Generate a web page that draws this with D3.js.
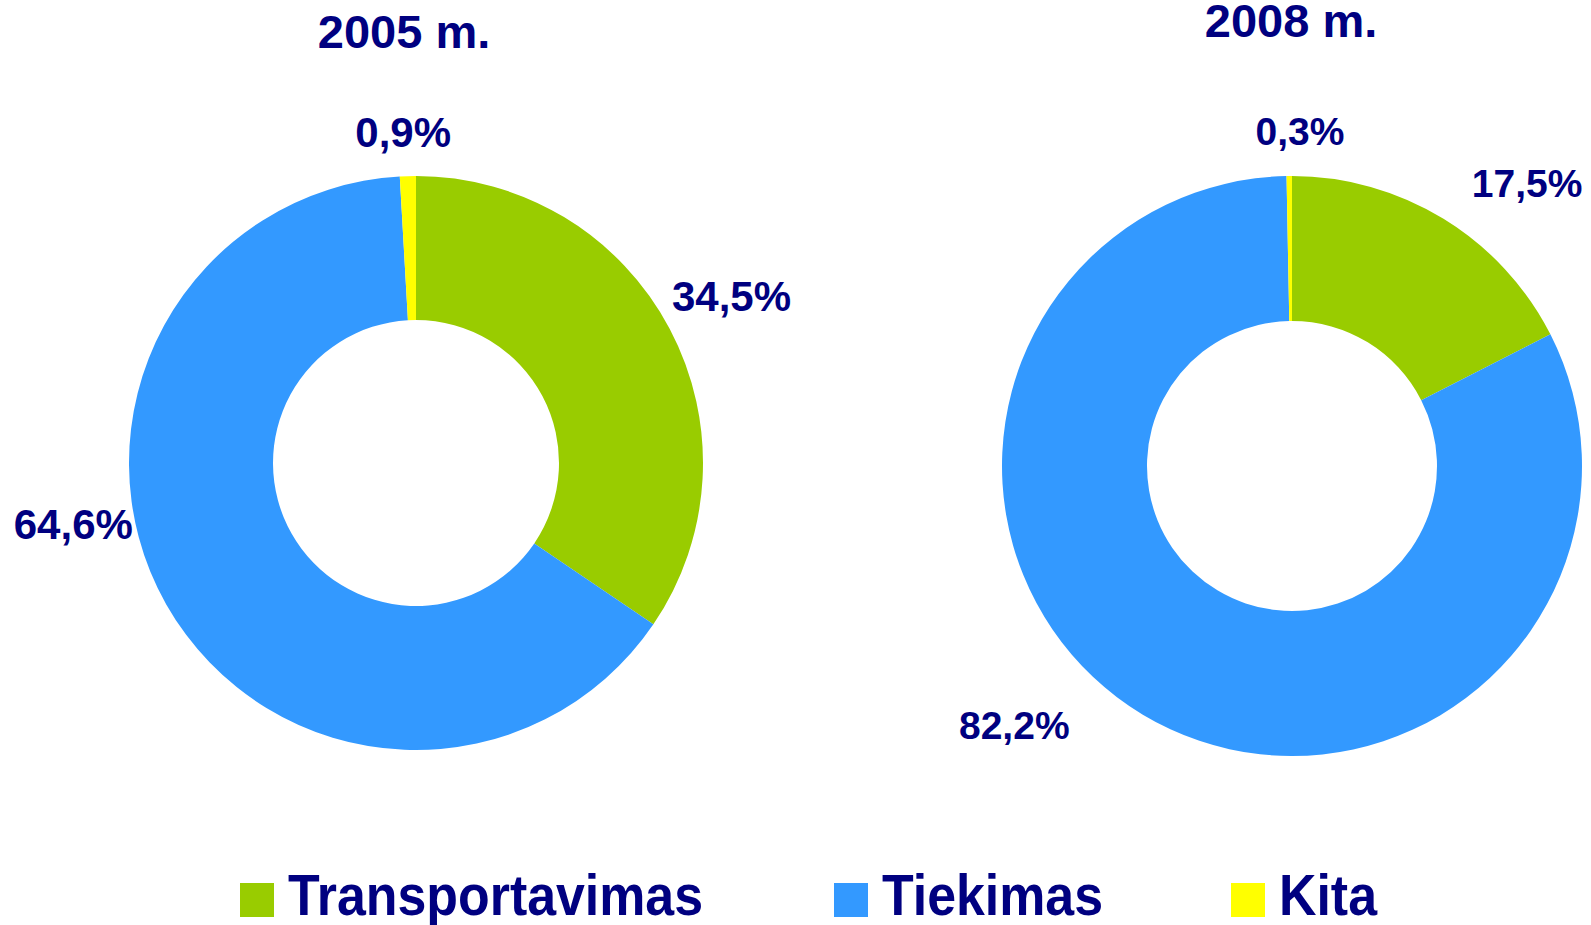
<!DOCTYPE html>
<html>
<head>
<meta charset="utf-8">
<script src="https://cdn.jsdelivr.net/npm/d3@7"></script>
<style>
  body { margin: 0; background: #fff; }
  svg text { font-family: "Liberation Sans", Arial, sans-serif; font-weight: bold; fill: #000080; }
</style>
</head>
<body>
<div id="chart"></div>
<script>
// data
var categories = ["Transportavimas", "Tiekimas", "Kita"];
var years = ["2005 m.", "2008 m."];
var values2005 = [34.5, 64.6, 0.9];
var values2008 = [17.5, 82.2, 0.3];
var colors = ["#99CC00", "#3399FF", "#FFFF00"];

var width = 1591, height = 925;

var svg = d3.select("#chart")
  .append("svg")
  .attr("width", width)
  .attr("height", height);

// layout of the two donuts
var panels = [
  { title: years[0], values: values2005, cx: 416, cy: 463, outer: 287, inner: 143,
    titleX: -12, titleY: 48, fontSize: 42,
    labelR: [357, 348, 331], labelShift: [0, 19.5, -0.6] },
  { title: years[1], values: values2008, cx: 1292, cy: 466, outer: 290, inner: 145,
    titleX: -1, titleY: 37, fontSize: 39,
    labelR: [368, 380, 335], labelShift: [8.2, 16, 1.9] }
];

var pie = d3.pie()
  .sort(null)
  .value(d => d);

var fmt = v => d3.format(".1f")(v).replace(".", ",") + "%";

panels.forEach(function(p) {
  var g = svg.append("g")
    .attr("transform", `translate(${p.cx},${p.cy})`);

  var arc = d3.arc()
    .innerRadius(p.inner)
    .outerRadius(p.outer);

  var arcs = pie(p.values);

  g.selectAll("path")
    .data(arcs)
    .enter()
    .append("path")
    .attr("d", arc)
    .style("fill", (d, i) => colors[i]);

  // title
  svg.append("text")
    .text(p.title)
    .attr("x", p.cx + p.titleX)
    .attr("y", p.titleY)
    .style("text-anchor", "middle")
    .style("font-size", "47px");

  // percentage labels
  g.selectAll(".lbl")
    .data(arcs)
    .enter()
    .append("text")
    .attr("class", "lbl")
    .text(d => fmt(d.data))
    .attr("transform", function(d, i) {
      var mid = (d.startAngle + d.endAngle) / 2 + p.labelShift[i] * Math.PI / 180;
      var pt = d3.pointRadial(mid, p.labelR[i]);
      return `translate(${pt[0]},${pt[1]})`;
    })
    .attr("dy", "0.36em")
    .style("text-anchor", "middle")
    .style("font-size", p.fontSize + "px");
});

// legend
var legendX = [240, 834, 1231];
var legend = svg.append("g").attr("class", "legend");

categories.forEach(function(c, i) {
  legend.append("rect")
    .attr("x", legendX[i])
    .attr("y", 883)
    .attr("width", 34)
    .attr("height", 34)
    .style("fill", colors[i]);

  legend.append("text")
    .text(c)
    .attr("transform", `translate(${legendX[i] + 48},915) scale(0.91,1)`)
    .style("font-size", "57px");
});
</script>
</body>
</html>
